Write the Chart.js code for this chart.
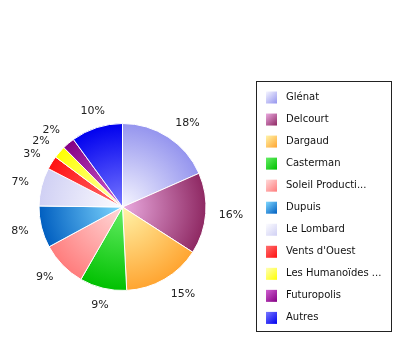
<!DOCTYPE html>
<html>
<head>
<meta charset="utf-8">
<script src="https://cdn.jsdelivr.net/npm/chart.js@4/dist/chart.umd.min.js"></script>
<style>
html,body{margin:0;padding:0;background:#fff;}
#wrap{width:400px;height:356px;position:relative;}
</style>
</head>
<body>
<div id="wrap"><canvas id="c" width="400" height="356"></canvas></div>
<script>
const categories = ["Glénat","Delcourt","Dargaud","Casterman","Soleil Productions","Dupuis","Le Lombard","Vents d'Ouest","Les Humanoïdes Associés","Futuropolis","Autres"];
const shares = [18.4, 15.7, 15.1, 9.1, 8.8, 8.1, 7.4, 2.6, 2.4, 2.4, 10.0];
const rimColors = ["#9494ee","#8e2862","#ffa430","#00c000","#ff7c7c","#005ec0","#d0d0f4","#ff1010","#ffff00","#840084","#0000ee"];
const innerColors = ["#f6f6ff","#eaaae0","#fff4aa","#66ee66","#ffdada","#80d8ff","#fcfcff","#ff7070","#ffffb8","#d060d0","#7878ff"];

const FONT = "'DejaVu Sans', Verdana, sans-serif";

function truncate(s, n){ return s.length > n ? s.slice(0, n) + "..." : s; }

function sliceFill(ctx){
  const chart = ctx.chart;
  const a = chart.chartArea;
  if (!a) return rimColors[ctx.dataIndex];
  const cx = (a.left + a.right) / 2, cy = (a.top + a.bottom) / 2;
  const r = Math.min(a.right - a.left, a.bottom - a.top) / 2;
  const g = chart.ctx.createRadialGradient(cx, cy, 0, cx, cy, r);
  g.addColorStop(0, innerColors[ctx.dataIndex]);
  g.addColorStop(1, rimColors[ctx.dataIndex]);
  return g;
}

const pctLabels = {
  id: 'pctLabels',
  afterDatasetsDraw(chart){
    const ctx = chart.ctx;
    const meta = chart.getDatasetMeta(0);
    const total = shares.reduce((a,b)=>a+b,0);
    ctx.save();
    ctx.font = "11px " + FONT;
    ctx.fillStyle = "#222";
    ctx.textBaseline = "middle";
    meta.data.forEach((arc, i) => {
      const mid = (arc.startAngle + arc.endAngle) / 2;
      const R = arc.outerRadius + 13;
      const c = Math.cos(mid), s = Math.sin(mid);
      const x = arc.x + c * R;
      const y = arc.y + s * (R + 4);
      ctx.textAlign = c > 0.35 ? "left" : (c < -0.35 ? "right" : "center");
      ctx.fillText(Math.round(shares[i] / total * 100) + "%", x, y);
    });
    ctx.restore();
  }
};

const boxLegend = {
  id: 'boxLegend',
  afterDraw(chart){
    const ctx = chart.ctx;
    ctx.save();
    ctx.strokeStyle = "#222";
    ctx.lineWidth = 1;
    ctx.strokeRect(256.5, 81.5, 135, 250);
    ctx.font = "10px " + FONT;
    ctx.textBaseline = "middle";
    ctx.textAlign = "left";
    categories.forEach((name, i) => {
      const y = 97.5 + i * 22.04;
      const g = ctx.createLinearGradient(266, y - 6, 277, y + 6);
      g.addColorStop(0, innerColors[i]);
      g.addColorStop(1, rimColors[i]);
      ctx.fillStyle = g;
      ctx.fillRect(266, y - 6, 11, 12);
      ctx.fillStyle = "#111";
      ctx.fillText(truncate(name, 15), 286, y);
    });
    ctx.restore();
  }
};

new Chart(document.getElementById('c'), {
  type: 'pie',
  data: {
    labels: categories,
    datasets: [{
      data: shares,
      backgroundColor: sliceFill,
      borderColor: "#ffffff",
      borderWidth: 1,
      hoverOffset: 0,
      offset: 0
    }]
  },
  options: {
    responsive: false,
    animation: false,
    layout: { padding: { left: 38.5, right: 193.5, top: 123, bottom: 65 } },
    plugins: { legend: { display: false }, tooltip: { enabled: false } }
  },
  plugins: [pctLabels, boxLegend]
});
</script>
</body>
</html>
